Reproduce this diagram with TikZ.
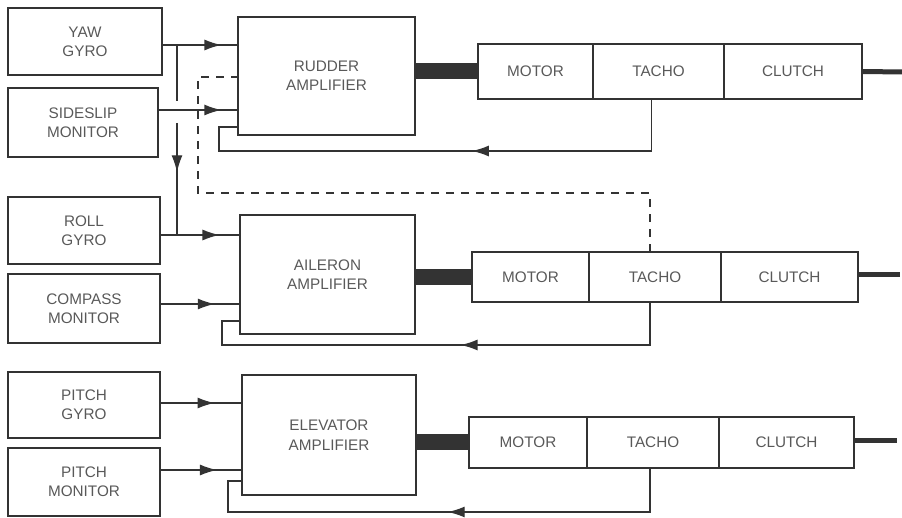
\documentclass[tikz,border=0pt]{standalone}
\usepackage{fontspec}
\setmainfont{Liberation Sans}
\usetikzlibrary{arrows.meta, positioning, decorations.markings}

\begin{document}
\begin{tikzpicture}[x=0.2mm, y=-0.2mm, >=Latex,
    every node/.style={font=\fontsize{8.7}{11}\selectfont, text=black!65},
    unit/.style={draw=black!80, line width=1.2pt, align=center, inner sep=0pt},
    cell/.style={unit, outer sep=0pt},
    link/.style={draw, color=black!80, line width=0.8pt},
    flow/.style={link, postaction={decorate}, decoration={markings,
        mark=at position #1 with {\arrow{Latex[length=3.4mm, width=2.2mm]}}}},
    shaft/.style={draw=black!80, line width=3.2mm},
    output/.style={draw=black!80, line width=1mm}]
    \useasboundingbox (0,0) rectangle (902,518);

    % Sensors
    \node[unit, minimum width=30.8mm, minimum height=13.4mm] (yaw) at (85,41.5) {YAW\\GYRO};
    \node[unit, minimum width=30mm, minimum height=13.8mm] (slip) at (83,122.5) {SIDESLIP\\MONITOR};
    \node[unit, minimum width=30.4mm, minimum height=13.4mm] (roll) at (84,230.5) {ROLL\\GYRO};
    \node[unit, minimum width=30.4mm, minimum height=13.8mm] (comp) at (84,308.5) {COMPASS\\MONITOR};
    \node[unit, minimum width=30.4mm, minimum height=13.2mm] (pgyro) at (84,405) {PITCH\\GYRO};
    \node[unit, minimum width=30.4mm, minimum height=13.6mm] (pmon) at (84,482) {PITCH\\MONITOR};

    % Amplifiers
    \node[unit, minimum width=35.4mm, minimum height=23.6mm] (rud) at (326.5,76) {RUDDER\\AMPLIFIER};
    \node[unit, minimum width=35mm, minimum height=23.8mm] (ail) at (327.5,274.5) {AILERON\\AMPLIFIER};
    \node[unit, minimum width=34.8mm, minimum height=24mm] (elev) at (329,435) {ELEVATOR\\AMPLIFIER};

    % Motor / tacho / clutch units
    \node[cell, minimum width=23mm, minimum height=11mm] (mot1) at (535.5,71.5) {MOTOR};
    \node[cell, minimum width=26.2mm, minimum height=11mm, right=0pt of mot1] (tac1) {TACHO};
    \node[cell, minimum width=27.6mm, minimum height=11mm, right=0pt of tac1] (clu1) {CLUTCH};

    \node[cell, minimum width=23.4mm, minimum height=10mm] (mot2) at (530.5,277) {MOTOR};
    \node[cell, minimum width=26.4mm, minimum height=10mm, right=0pt of mot2] (tac2) {TACHO};
    \node[cell, minimum width=27.4mm, minimum height=10mm, right=0pt of tac2] (clu2) {CLUTCH};

    \node[cell, minimum width=23.6mm, minimum height=10.2mm] (mot3) at (528,442.5) {MOTOR};
    \node[cell, minimum width=26.4mm, minimum height=10.2mm, right=0pt of mot3] (tac3) {TACHO};
    \node[cell, minimum width=27mm, minimum height=10.2mm, right=0pt of tac3] (clu3) {CLUTCH};

    % Drive shafts
    \draw[shaft] (rud.east |- mot1.west) -- (mot1.west);
    \draw[shaft] (ail.east |- mot2.west) -- (mot2.west);
    \draw[shaft] (elev.east |- mot3.west) -- (mot3.west);

    \coordinate (end1) at (902,72);
    \coordinate (end2) at (900,275);
    \coordinate (end3) at (897,441);
    \draw[output] (clu1.east) -- (end1);
    \draw[output] (clu2.east |- end2) -- (end2);
    \draw[output] (clu3.east |- end3) -- (end3);

    % Sensor inputs
    \draw[flow=0.79] (yaw.east |- 0,45) -- (rud.west |- 0,45);
    \draw[flow=0.8] (slip.east |- 0,110) -- (rud.west |- 0,110);
    \draw[flow=0.75] (roll.east |- 0,235) -- (ail.west |- 0,235);
    \draw[flow=0.69] (comp.east |- 0,304) -- (ail.west |- 0,304);
    \draw[flow=0.67] (pgyro.east |- 0,403) -- (elev.west |- 0,403);
    \draw[flow=0.7] (pmon.east |- 0,470) -- (elev.west |- 0,470);

    % Yaw gyro branch to aileron channel
    \coordinate (br) at (177,45);
    \coordinate (gap) at (177,123);
    \coordinate (brlow) at (177,235);
    \draw[link] (br) -- ++(0,56);
    \draw[flow=0.44] (gap) -- (brlow);

    % Tacho feedback
    \coordinate (fb1) at (219,151);
    \coordinate (fb2) at (222,345);
    \coordinate (fb3) at (228,512);
    \draw[flow=0.44] ([xshift=-1.4mm]tac1.south) |- (fb1) |- (rud.west |- 0,127);
    \draw[flow=0.454] ([xshift=-1mm]tac2.south) |- (fb2) |- (ail.west |- 0,321);
    \draw[flow=0.483] ([xshift=-0.6mm]tac3.south) |- (fb3) |- (elev.west |- 0,481);

    % Aileron tacho to rudder (dashed)
    \coordinate (dsh) at (198,193);
    \draw[link, dash pattern=on 1.6mm off 1.4mm] ([xshift=-1mm]tac2.north) |- (dsh) |- (rud.west |- 0,77);
\end{tikzpicture}
\end{document}
